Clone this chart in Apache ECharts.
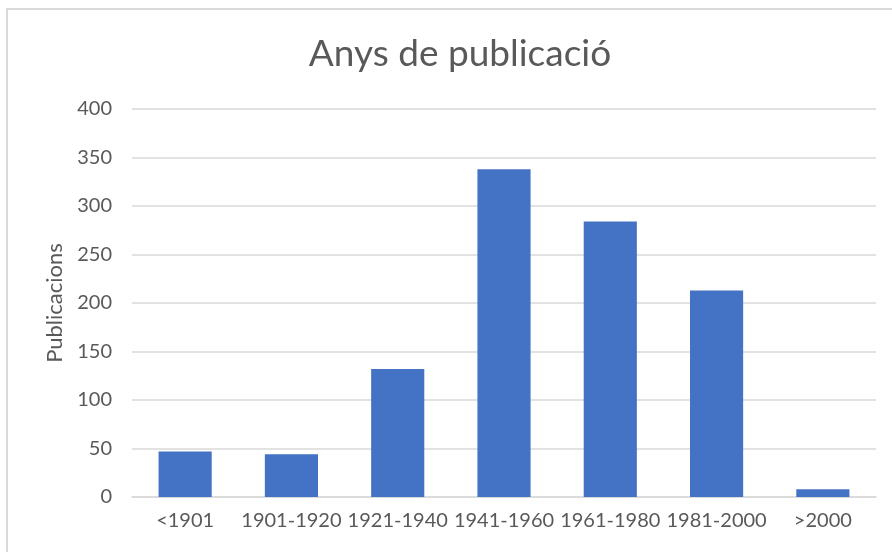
<!DOCTYPE html>
<html>
<head>
<meta charset="utf-8">
<script src="https://cdn.jsdelivr.net/npm/echarts@6/dist/echarts.min.js"></script>
<style>
  html, body { margin: 0; padding: 0; background: #fff; }
  #frame { position: absolute; left: 6px; top: 8px; width: 900px; height: 560px; border-left: 2px solid #d9d9d9; border-top: 2px solid #d9d9d9; }
  #chart { position: absolute; left: 0; top: 0; width: 892px; height: 552px; }
</style>
</head>
<body>
<div id="frame"></div>
<div id="chart"></div>
<script>
const categories = ['<1901', '1901-1920', '1921-1940', '1941-1960', '1961-1980', '1981-2000', '>2000'];
const publicacions = [47, 44, 132, 338, 284, 213, 8];
const yTicks = { min: 0, max: 400, interval: 50 };

const labelFont = { color: '#595959', fontFamily: 'Lato', fontSize: 20 };

const chart = echarts.init(document.getElementById('chart'), null, { renderer: 'canvas' });
chart.setOption({
  backgroundColor: 'transparent',
  animation: false,
  title: {
    text: 'Anys de publicació',
    left: 455,
    top: 31,
    textAlign: 'center',
    textStyle: { color: '#595959', fontFamily: 'Lato', fontSize: 37, fontWeight: 'normal' },
  },
  grid: { left: 132, right: 16, top: 109, bottom: 55 },
  xAxis: {
    type: 'category',
    data: categories,
    axisLine: { lineStyle: { color: '#d9d9d9', width: 1.5 } },
    axisTick: { show: false },
    axisLabel: { ...labelFont, margin: 14, interval: 0 },
  },
  yAxis: {
    type: 'value',
    min: yTicks.min, max: yTicks.max, interval: yTicks.interval,
    name: 'Publicacions',
    nameLocation: 'middle',
    nameGap: 66,
    nameTextStyle: { ...labelFont, fontSize: 22 },
    axisLine: { show: false },
    axisTick: { show: false },
    axisLabel: { ...labelFont, margin: 20 },
    splitLine: { lineStyle: { color: '#d9d9d9', width: 1.5 } },
  },
  series: [{
    name: 'Publicacions',
    type: 'bar',
    data: publicacions,
    barWidth: '50%',
    itemStyle: { color: '#4472c4' },
  }],
});
</script>
</body>
</html>
